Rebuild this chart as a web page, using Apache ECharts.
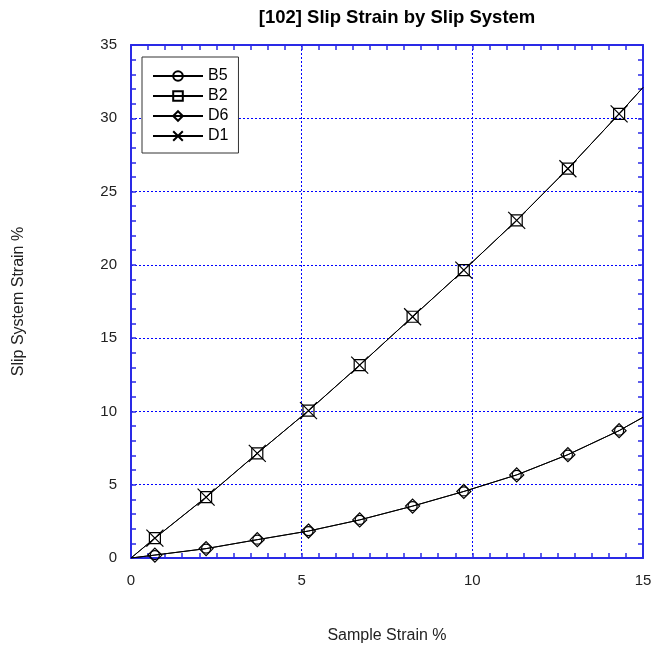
<!DOCTYPE html>
<html>
<head>
<meta charset="utf-8">
<title>[102] Slip Strain by Slip System</title>
<script src="https://cdn.jsdelivr.net/npm/echarts@6/dist/echarts.min.js"></script>
<style>
    html, body { margin: 0; padding: 0; background: #fff; }
    #main { width: 654px; height: 648px; }
</style>
</head>
<body>
<div id="main"></div>
<script>
// sample strain % (first and last points are the line ends, no marker)
var sampleStrain = [0, 0.7, 2.2, 3.7, 5.2, 6.7, 8.25, 9.75, 11.3, 12.8, 14.3, 15];
// slip system strain %
var b5 = [0, 0.2, 0.64, 1.25, 1.84, 2.6, 3.54, 4.54, 5.67, 7.05, 8.69, 9.6];
var b2 = [0, 1.36, 4.15, 7.14, 10.05, 13.16, 16.46, 19.64, 23.04, 26.56, 30.3, 32.1];
var d6 = [0, 0.2, 0.64, 1.25, 1.84, 2.6, 3.54, 4.54, 5.67, 7.05, 8.69, 9.6];
var d1 = [0, 1.36, 4.15, 7.14, 10.05, 13.16, 16.46, 19.64, 23.04, 26.56, 30.3, 32.1];
var names = ['B5', 'B2', 'D6', 'D1'];

var blue = '#2a2ae6';
var gridBlue = '#0000ff';
var font = 'Liberation Sans, Arial, sans-serif';

function pts(ys) {
    var out = [];
    for (var i = 0; i < ys.length; i++) {
        var p = { value: [sampleStrain[i], ys[i]] };
        // line runs to origin and to the right edge without a marker
        if (i == 0 || i == ys.length - 1) p.symbol = 'none';
        out.push(p);
    }
    return out;
}

function mkSeries(name, ys, symbol, size) {
    return {
        name: name,
        type: 'line',
        data: pts(ys),
        symbol: symbol,
        symbolSize: size,
        showAllSymbol: true,
        lineStyle: { color: '#000', width: 1 },
        itemStyle: { color: 'rgba(0,0,0,0)', borderColor: '#000', borderWidth: 1.2 },
        emphasis: { disabled: true },
        animation: false
    };
}

function mirrorAxis(pos, max, interval, split) {
    return {
        type: 'value',
        position: pos,
        min: 0, max: max, interval: interval,
        axisLine: { show: true, onZero: false, lineStyle: { color: blue, width: 2 } },
        axisTick: { show: true, inside: true, length: 5, lineStyle: { color: blue, width: 1.5 } },
        minorTick: { show: true, splitNumber: split, length: 5, lineStyle: { color: blue, width: 1.5 } },
        axisLabel: { show: false },
        splitLine: { show: false }
    };
}

var myChart = echarts.init(document.getElementById('main'));

var option = {
    backgroundColor: '#fff',
    title: {
        text: '[102] Slip Strain by Slip System',
        left: 392,
        top: 3,
        textAlign: 'center',
        textStyle: { fontFamily: font, fontSize: 18.5, fontWeight: 'bold', color: '#000' }
    },
    legend: {
        orient: 'vertical',
        left: 142,
        top: 57,
        data: names,
        itemWidth: 50,
        itemHeight: 12,
        itemGap: 4,
        padding: [11, 10, 9, 10],
        borderColor: '#333',
        borderWidth: 1,
        backgroundColor: '#fff',
        textStyle: { fontFamily: font, fontSize: 16, color: '#000' }
    },
    grid: { left: 131, right: 11, top: 45, bottom: 90, outerBoundsMode: 'none' },
    xAxis: [{
        type: 'value',
        min: 0, max: 15, interval: 5,
        name: 'Sample Strain %',
        nameLocation: 'middle',
        nameGap: 70,
        nameTextStyle: { fontFamily: font, fontSize: 16, color: '#222' },
        axisLine: { show: true, onZero: false, lineStyle: { color: blue, width: 2 } },
        axisTick: { show: true, inside: true, length: 5, lineStyle: { color: blue, width: 1.5 } },
        minorTick: { show: true, splitNumber: 10, length: 5, lineStyle: { color: blue, width: 1.5 } },
        axisLabel: { fontFamily: font, fontSize: 15, color: '#222', margin: 15 },
        splitLine: { show: true, lineStyle: { color: gridBlue, type: [2, 2], width: 1 } }
    }, mirrorAxis('top', 15, 5, 10)],
    yAxis: [{
        type: 'value',
        min: 0, max: 35, interval: 5,
        name: 'Slip System Strain %',
        nameLocation: 'middle',
        nameGap: 104,
        nameTextStyle: { fontFamily: font, fontSize: 16, color: '#222' },
        axisLine: { show: true, onZero: false, lineStyle: { color: blue, width: 2 } },
        axisTick: { show: true, inside: true, length: 5, lineStyle: { color: blue, width: 1.5 } },
        minorTick: { show: true, splitNumber: 5, length: 5, lineStyle: { color: blue, width: 1.5 } },
        axisLabel: { fontFamily: font, fontSize: 15, color: '#222', margin: 14 },
        splitLine: { show: true, lineStyle: { color: gridBlue, type: [2, 2], width: 1 } }
    }, mirrorAxis('right', 35, 5, 5)],
    series: [
        mkSeries('B5', b5, 'circle', 9),
        mkSeries('B2', b2, 'rect', 11),
        mkSeries('D6', d6, 'diamond', 14),
        mkSeries('D1', d1, 'path://M0,0L10,10M10,0L0,10', 17)
    ]
};

myChart.setOption(option);
</script>
</body>
</html>
